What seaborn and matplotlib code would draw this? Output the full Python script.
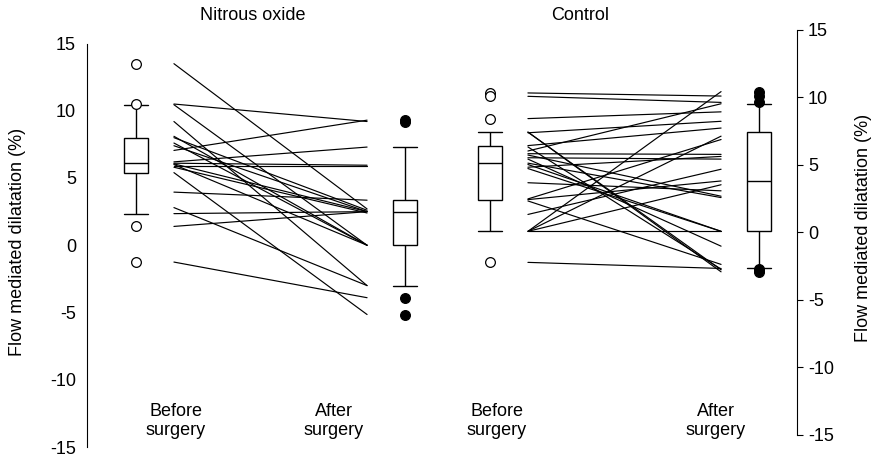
import numpy as np
import pandas as pd
import seaborn as sns
import matplotlib.pyplot as plt

# flow mediated dilatation (%) per patient
nitrous_before = [13.5, 10.5, 10.45, 9.2, 8.1, 8.0, 7.6, 7.4, 7.05, 6.2, 6.1,
                  6.05, 6.0, 5.9, 5.8, 5.4, 3.95, 2.8, 2.35, 1.4, -1.25]
nitrous_after = [2.7, 9.2, 0.0, -3.0, 0.0, 2.6, 0.0, 2.5, 9.3, 7.3, 5.95,
                 2.5, 0.0, 5.9, 2.4, -5.15, 3.35, -3.0, 2.5, 2.5, -3.9]

control_before = [10.3, 10.05, 0.05, 8.4, 7.4, 7.4, 7.35, 6.4, 6.3, 6.0, 5.8,
                  5.7, 5.5, 5.4, 5.1, 5.0, 4.8, 4.7, 3.65, 2.45, 2.4, 2.3,
                  1.3, 0.05, 0.05, 0.05, -2.25]
control_after = [10.07, 9.6, 10.4, 8.9, -2.95, -2.8, 8.2, 7.7, -2.75, 9.5, 5.75,
                 2.65, 5.4, -1.05, 2.55, 0.05, 5.6, 0.05, 3.05, 6.85, 3.78, -2.4,
                 4.65, 0.05, 3.5, 7.1, -2.7]

phases = ["Before", "After"]
panel_titles = ["Nitrous oxide", "Control"]
y_ticks = [-15, -10, -5, 0, 5, 10, 15]
y_label = "Flow mediated dilatation (%)"
x_labels = ["Before\nsurgery", "After\nsurgery", "Before\nsurgery", "After\nsurgery"]

W, H = 873, 454
PX = 269.0            # pixels between the two boxes of a panel
BOX_W = 23.5 / PX
LINE_X = {"Before": 0.141, "After": 0.859}
FS = 13


def make_frame(before, after):
    n = len(before)
    return pd.DataFrame({
        "subject": list(range(n)) * 2,
        "phase": ["Before"] * n + ["After"] * n,
        "fmd": list(before) + list(after),
    })


def draw_panel(ax, df):
    for phase, face in [("Before", "white"), ("After", "black")]:
        sns.boxplot(data=df[df.phase == phase], x="phase", y="fmd", order=phases,
                    width=BOX_W, whis=(10, 90), color="white", linecolor="black",
                    linewidth=1.0, capwidths=BOX_W, ax=ax,
                    flierprops=dict(marker="o", markersize=7, markerfacecolor=face,
                                    markeredgecolor="black", markeredgewidth=0.9))
    lines = df.assign(xpos=df.phase.map(LINE_X))
    sns.lineplot(data=lines, x="xpos", y="fmd", units="subject", estimator=None,
                 color="black", lw=0.85, ax=ax, legend=False)
    ax.set_ylim(-15, 15)
    ax.set_yticks(y_ticks)
    ax.set_xticks([])
    ax.set_xlabel("")
    ax.set_ylabel("")
    ax.tick_params(axis="y", direction="out", length=4, width=0.8, labelsize=FS, pad=4,
                   colors="black")


sns.set_style("white")
plt.rcParams["font.family"] = ["Liberation Sans", "DejaVu Sans"]
plt.rcParams["axes.unicode_minus"] = False
plt.rcParams["text.color"] = "black"
plt.rcParams["axes.edgecolor"] = "black"

fig = plt.figure(figsize=(W / 100, H / 100), dpi=100)

# left panel: spine at x=87, boxes at x=136 / 405, y from 447 (-15) to 43.5 (15)
ax1 = fig.add_axes([87 / W, 1 - 447 / H, (440 - 87) / W, 403.5 / H])
draw_panel(ax1, make_frame(nitrous_before, nitrous_after))
ax1.set_xlim((87 - 136) / PX, (440 - 136) / PX)
sns.despine(ax=ax1, top=True, right=True, bottom=True)

# right panel: spine at x=797, boxes at x=490 / 759, y from 434.5 (-15) to 29.5 (15)
ax2 = fig.add_axes([445 / W, 1 - 434.5 / H, (797 - 445) / W, 405 / H])
draw_panel(ax2, make_frame(control_before, control_after))
ax2.set_xlim((445 - 490) / PX, (797 - 490) / PX)
sns.despine(ax=ax2, top=True, left=True, bottom=True, right=False)
ax2.yaxis.tick_right()

for ax in (ax1, ax2):
    ax.spines["left" if ax is ax1 else "right"].set_linewidth(0.8)
    ax.patch.set_alpha(0)

fig.text(18 / W, 1 - 242 / H, y_label, rotation=90, ha="center", va="center", fontsize=FS)
fig.text(864 / W, 1 - 228 / H, y_label, rotation=90, ha="center", va="center", fontsize=FS)

fig.text(253 / W, 1 - 15 / H, panel_titles[0], ha="center", va="center", fontsize=FS)
fig.text(580 / W, 1 - 15 / H, panel_titles[1], ha="center", va="center", fontsize=FS)

for xp, lab in zip([176, 334, 497, 716], x_labels):
    fig.text(xp / W, 1 - 421 / H, lab, ha="center", va="center", fontsize=FS,
             linespacing=1.2)

fig.savefig("out.png", dpi=100)
